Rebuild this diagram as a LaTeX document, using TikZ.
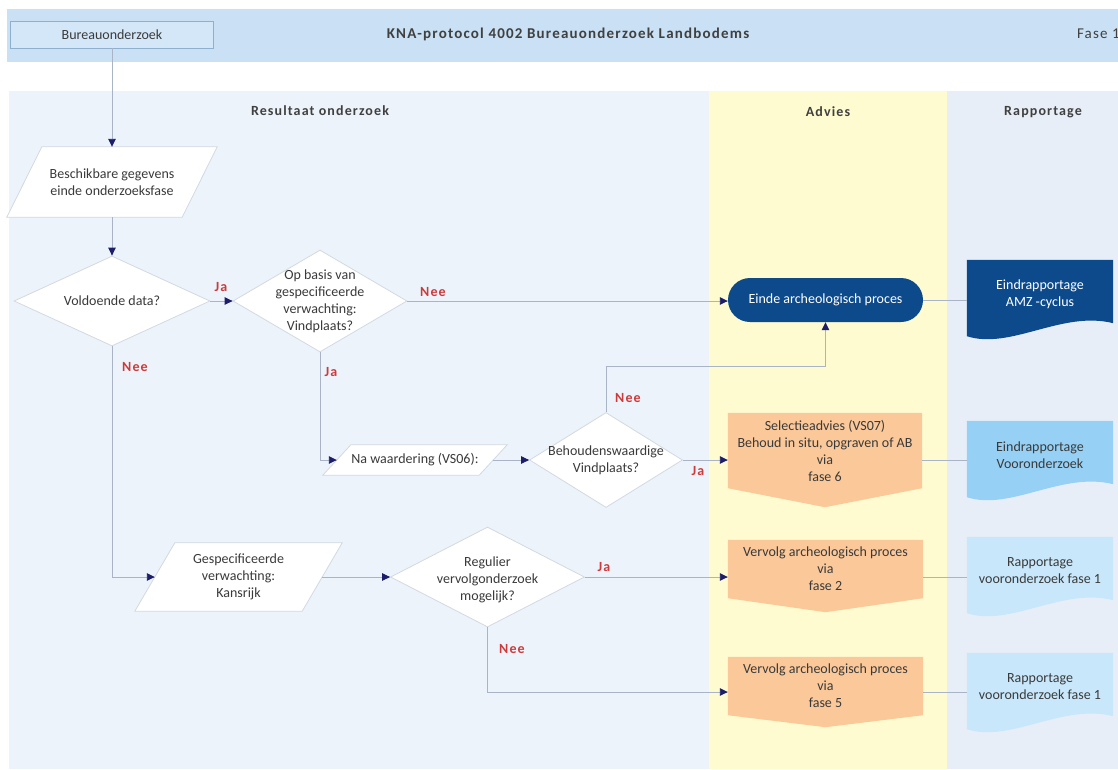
\documentclass[tikz,border=0pt]{standalone}
\usepackage{fontspec}
\setmainfont{Carlito}
\newfontfamily\headfont[LetterSpace=8]{Carlito}
\usetikzlibrary{arrows.meta,shapes.geometric,calc}

\pgfdeclarelayer{back}
\pgfdeclarelayer{shapes}
\pgfsetlayers{back,shapes,main}

\definecolor{band}{HTML}{C9E0F5}
\definecolor{boxfill}{HTML}{D4E7F8}
\definecolor{boxline}{HTML}{8FAFCF}
\definecolor{areaL}{HTML}{EDF3FB}
\definecolor{areaY}{HTML}{FEFBD0}
\definecolor{areaR}{HTML}{E8EEF8}
\definecolor{shapeline}{HTML}{D3D9E2}
\definecolor{conn}{HTML}{A9B5C7}
\definecolor{tipc}{HTML}{1C1D6B}
\definecolor{redlbl}{HTML}{CC3B3B}
\definecolor{navy}{HTML}{0C4A8C}
\definecolor{orangef}{HTML}{FAC899}
\definecolor{bluem}{HTML}{96D0F4}
\definecolor{bluel}{HTML}{C8E7FA}
\definecolor{txt}{HTML}{3A3A3A}
\definecolor{headtxt}{HTML}{404040}

% parallelogram drawn inside the frame of a named node
\newcommand\paral[2]{%
  \draw[draw=shapeline,fill=white,line width=0.8pt]
    ([xshift=#2]#1.north west) -- (#1.north east) -- ([xshift=-#2]#1.south east)
    -- (#1.south west) -- cycle;}
% off-page connector: rectangle with a pointed bottom
\newcommand\offpage[2]{%
  \fill[orangef] (#1.north west) -- (#1.north east) -- (#1.south east)
    -- ([yshift=-#2]#1.south) -- (#1.south west) -- cycle;}
% document shape with a wavy bottom edge
\newcommand\docshape[2]{%
  \fill[#2] (#1.north west) -- (#1.north east) -- ([yshift=5pt]#1.south east)
    .. controls ($(#1.south west)!0.65!(#1.south east)+(0,-18)$)
    and ($(#1.south west)!0.3!(#1.south east)+(0,22)$)
    .. ([yshift=-8pt]#1.south west) -- cycle;}

\tikzset{
  every node/.style={font=\fontsize{14}{17}\selectfont, text=txt},
  startbox/.style={rectangle, draw=boxline, fill=boxfill, line width=0.8pt,
    minimum width=203pt, minimum height=27pt, inner sep=0pt},
  frame/.style={rectangle, inner sep=0pt, align=center},
  decision/.style={diamond, draw=shapeline, fill=white, line width=0.8pt, inner sep=0pt},
  intext/.style={align=center, inner sep=0pt},
  answer/.style={font=\headfont\bfseries\fontsize{14}{16}\selectfont, text=redlbl, inner sep=0pt},
  colhead/.style={font=\headfont\bfseries\fontsize{14}{16}\selectfont, text=headtxt, inner sep=0pt},
  flow/.style={draw=conn, line width=0.9pt, -{Triangle[length=8pt,width=7.5pt,color=tipc]}},
  link/.style={draw=conn, line width=0.9pt},
}

\begin{document}
\begin{tikzpicture}[x=1pt,y=-1pt]
\useasboundingbox (0,0) rectangle (1118,769);

% backgrounds: header band and the three columns
\begin{pgfonlayer}{back}
  \fill[white] (0,0) rectangle (1118,769);
  \fill[band] (7,9) rectangle (1118,62);
  \fill[areaL] (9,91) rectangle (709,769);
  \fill[areaY] (709,91) rectangle (947,769);
  \fill[areaR] (947,91) rectangle (1118,769);
\end{pgfonlayer}

% header
\node[startbox] (start) at (112,34.5) {Bureauonderzoek};
\node[colhead, font=\headfont\bfseries\fontsize{15}{17}\selectfont] (title) at (568,34)
  {KNA-protocol 4002 Bureauonderzoek Landbodems};
\node[inner sep=0pt, anchor=east, font=\headfont\fontsize{15}{17}\selectfont, text=headtxt] (fase) at (1120,34) {Fase 1};

% column headings
\node[colhead] (hres) at (320,111) {Resultaat onderzoek};
\node[colhead] (hadv) at (828,112) {Advies};
\node[colhead] (hrap) at (1043,112) {Rapportage};

% data parallelograms
\node[frame, minimum width=210pt, minimum height=70pt] (p1) at (112,182)
  {Beschikbare gegevens\\einde onderzoeksfase};
\node[frame, minimum width=184pt, minimum height=30pt] (p2) at (415,460)
  {Na waardering (VS06):};
\node[frame, minimum width=207pt, minimum height=68pt] (p3) at (238.5,577)
  {Gespecificeerde\\verwachting:\\Kansrijk};
\begin{pgfonlayer}{shapes}
  \paral{p1}{35pt}
  \paral{p2}{28pt}
  \paral{p3}{40pt}
\end{pgfonlayer}

% decisions
\node[decision, minimum width=196pt, minimum height=90pt] (d1) at (112,301) {};
\node[intext] (d1t) at (d1) {Voldoende data?};
\node[decision, minimum width=174pt, minimum height=102pt] (d2) at (320,301) {};
\node[intext] (d2t) at (d2) {Op basis van\\gespecificeerde\\verwachting:\\Vindplaats?};
\node[decision, minimum width=153pt, minimum height=95pt] (d3) at (606,460) {};
\node[intext] (d3t) at (d3) {Behoudenswaardige\\Vindplaats?};
\node[decision, minimum width=194pt, minimum height=100pt] (d4) at (487.5,577) {};
\node[intext] (d4t) at ([yshift=-3pt]d4.center) {Regulier\\vervolgonderzoek\\mogelijk?};

% terminator
\node[rectangle, rounded corners=22pt, fill=navy, minimum width=195pt,
  minimum height=44pt, inner sep=0pt, text=white] (stop) at (825.5,300)
  {Einde archeologisch proces};

% advice (off-page shapes)
\node[frame, minimum width=194pt, minimum height=75pt] (sel) at (825,450.5)
  {Selectieadvies (VS07)\\Behoud in situ, opgraven of AB\\via\\fase 6};
\node[frame, minimum width=195pt, minimum height=58pt] (v2) at (825.5,569)
  {Vervolg archeologisch proces\\via\\fase 2};
\node[frame, minimum width=195pt, minimum height=58pt] (v5) at (825.5,686)
  {Vervolg archeologisch proces\\via\\fase 5};

% reports (document shapes)
\node[frame, minimum width=146pt, minimum height=68pt, text=white] (amz) at (1040,294)
  {Eindrapportage\\AMZ -cyclus};
\node[frame, minimum width=146pt, minimum height=68pt] (dv) at (1040,455)
  {Eindrapportage\\Vooronderzoek};
\node[frame, minimum width=146pt, minimum height=68pt] (r1) at (1040,571)
  {Rapportage\\vooronderzoek fase 1};
\node[frame, minimum width=146pt, minimum height=68pt] (r2) at (1040,687)
  {Rapportage\\vooronderzoek fase 1};

\begin{pgfonlayer}{shapes}
  \offpage{sel}{19pt}
  \offpage{v2}{14pt}
  \offpage{v5}{12pt}
  \docshape{amz}{navy}
  \docshape{dv}{bluem}
  \docshape{r1}{bluel}
  \docshape{r2}{bluel}
\end{pgfonlayer}

% flow connectors
\draw[flow] (start.south) -- (p1.north);
\draw[flow] (p1.south) -- (d1.north);
\draw[flow] (d1.east) -- (d2.west);
\draw[flow] (d2.east) -- (d2 -| stop.west);
\draw[flow] (d2.south) |- ([xshift=14pt]p2.west);
\draw[flow] ([xshift=-14pt]p2.east) -- (d3.west);
\draw[flow] (d3.north) |- ([yshift=-44pt]stop.south) -- (stop.south);
\draw[flow] (d3.east) -- (d3 -| sel.west);
\draw[flow] (d1.south) |- ([xshift=20pt]p3.west);
\draw[flow] ([xshift=-20pt]p3.east) -- (d4.west);
\draw[flow] (d4.east) -- (d4 -| v2.west);
\coordinate (row5) at ([yshift=-6pt]v5.west);
\draw[flow] (d4.south) |- (row5);

% links to the reports
\draw[link] (stop.east) -- (stop -| amz.west);
\draw[link] (d3 -| sel.east) -- (d3 -| dv.west);
\draw[link] (d4 -| v2.east) -- (d4 -| r1.west);
\draw[link] (row5 -| v5.east) -- (row5 -| r2.west);

% answers on the branches
\node[answer] (a1) at (221,287) {Ja};
\node[answer] (a2) at (135,367) {Nee};
\node[answer] (a3) at (433,292) {Nee};
\node[answer] (a4) at (331,372) {Ja};
\node[answer] (a5) at (628,398) {Nee};
\node[answer] (a6) at (698,471) {Ja};
\node[answer] (a7) at (604,567) {Ja};
\node[answer] (a8) at (512,649) {Nee};
\end{tikzpicture}
\end{document}
